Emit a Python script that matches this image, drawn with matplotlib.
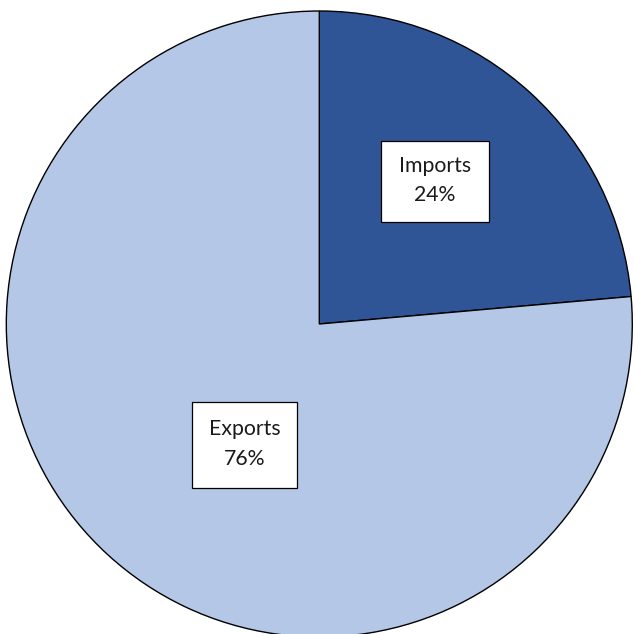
import matplotlib
matplotlib.use("Agg")
import matplotlib.pyplot as plt
from matplotlib.patches import Rectangle

labels = ["Imports", "Exports"]
shares = [23.6, 76.4]
colors = ["#2F5597", "#B4C7E7"]

W, H = 635, 634
fig = plt.figure(figsize=(W / 100, H / 100), dpi=100)
ax = fig.add_axes([0, 0, 1, 1])

cx, cy, r = 319.3, H - 324, 313
ax.pie(
    shares,
    colors=colors,
    startangle=90,
    counterclock=False,
    center=(cx, cy),
    radius=r,
    wedgeprops=dict(edgecolor="black", linewidth=1.0),
)

# label boxes (pixel layout, y from top)
boxes = [(381, 141, 108, 81), (192, 402, 105, 86)]
for name, share, (x0, y0, bw, bh) in zip(labels, shares, boxes):
    ax.add_patch(Rectangle((x0, H - y0 - bh), bw, bh, facecolor="white",
                           edgecolor="black", linewidth=0.9, zorder=3))
    ax.text(x0 + bw / 2, H - y0 - bh / 2 + 1, f"{name}\n{round(share)}%",
            ha="center", va="center", fontsize=15.3, family="Lato",
            linespacing=1.6, color="#1a1a1a", zorder=4)

ax.set_xlim(0, W)
ax.set_ylim(0, H)
ax.set_aspect("equal")
ax.axis("off")
fig.savefig("out.png", dpi=100)
